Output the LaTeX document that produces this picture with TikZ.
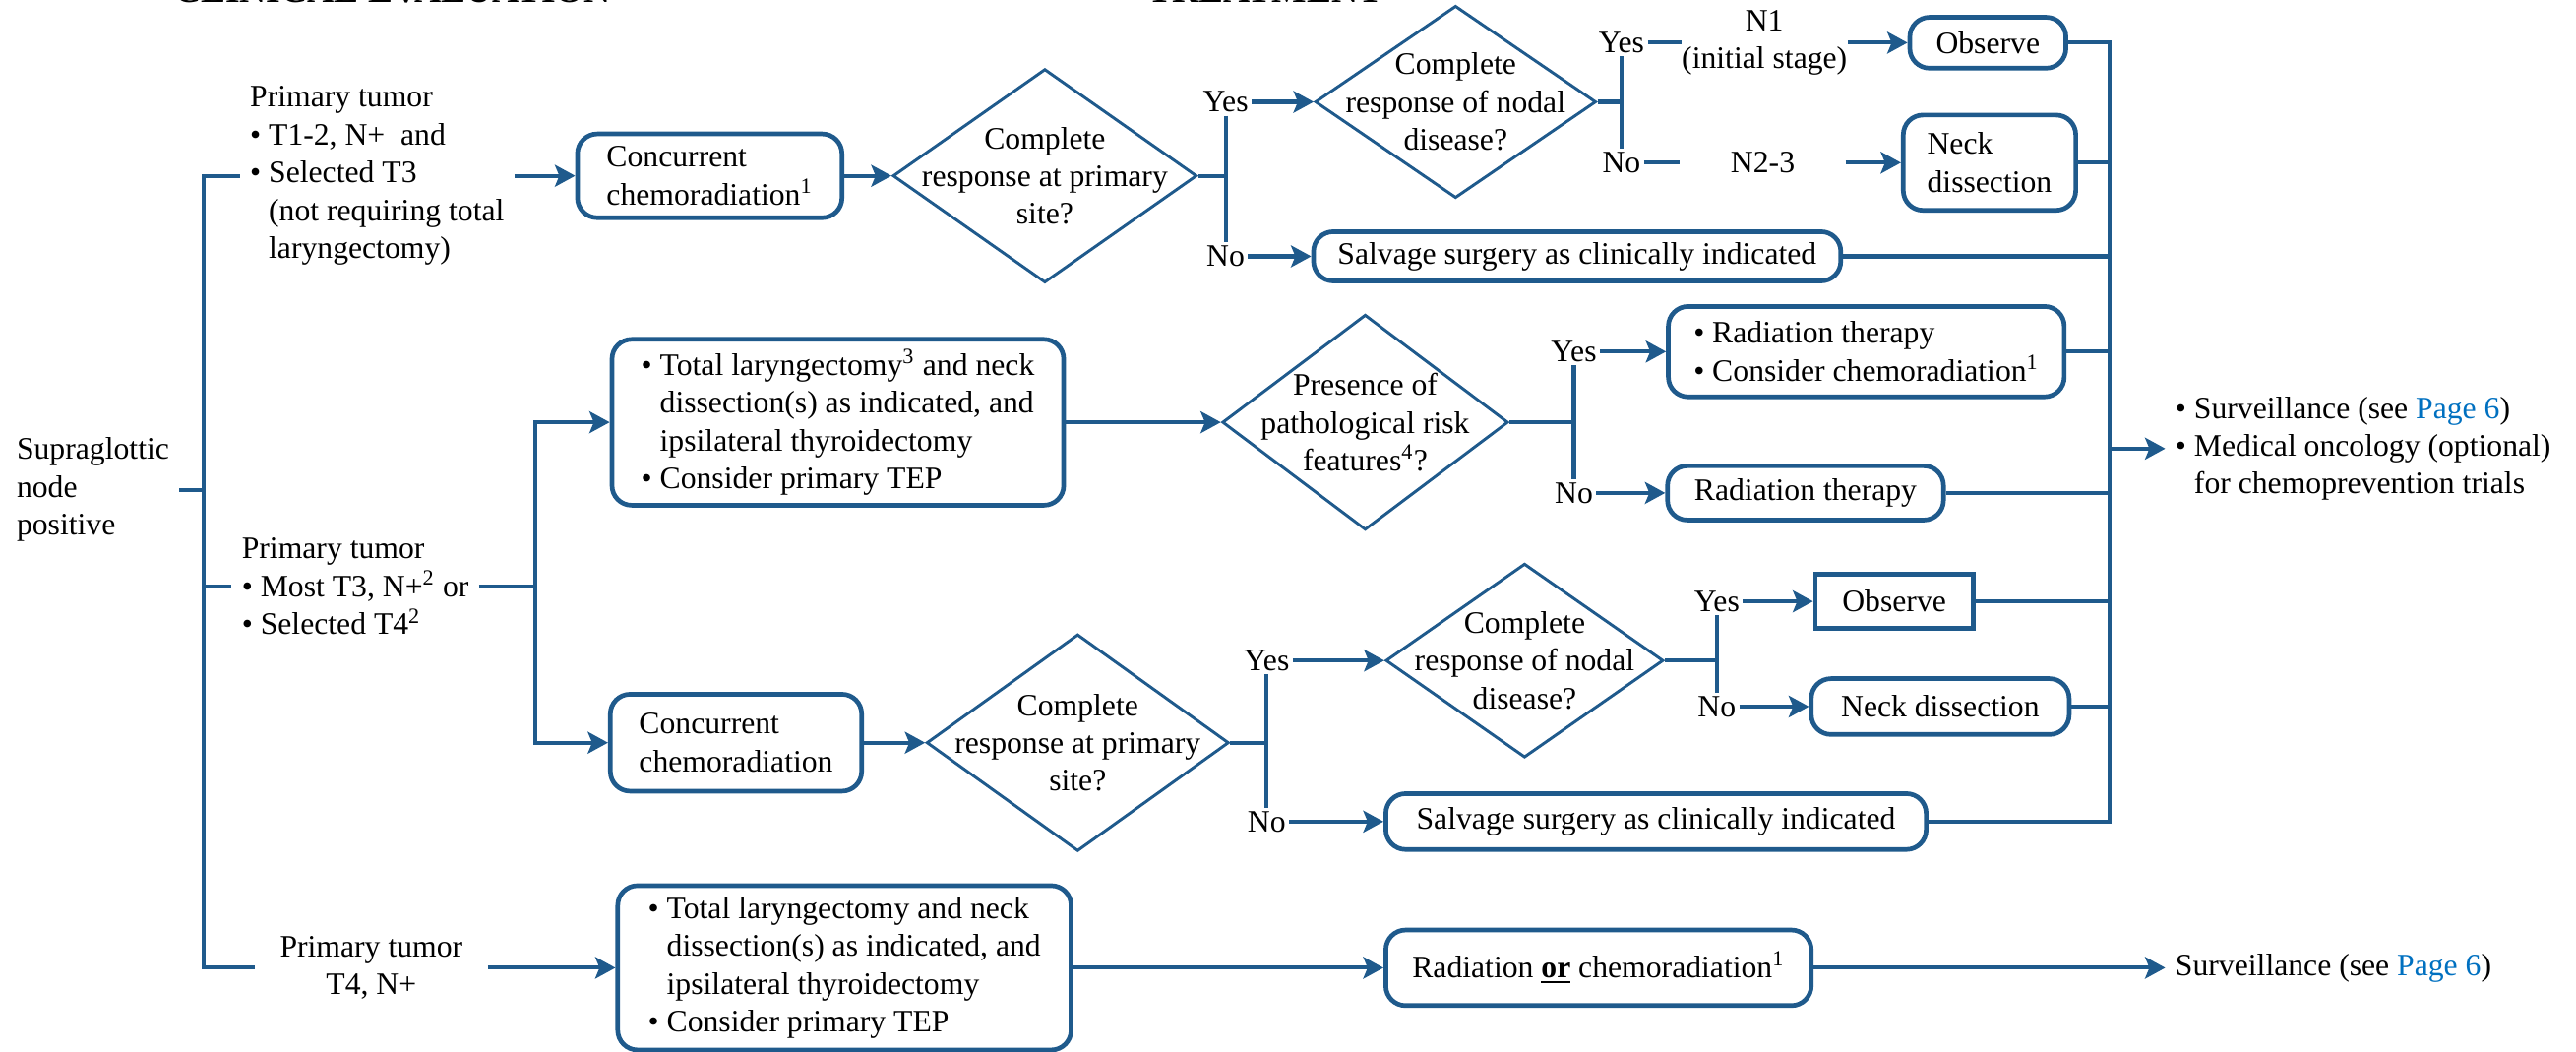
\documentclass[tikz,border=0pt]{standalone}
\usepackage{fontspec}
\setmainfont{Liberation Serif}
\usetikzlibrary{arrows.meta,shapes.geometric}

\definecolor{nccnblue}{RGB}{31,90,140}
\definecolor{linkblue}{RGB}{0,112,192}
\newcommand{\bul}{\textbullet\ }
\newcommand{\bulsp}{\phantom{\textbullet}\ }

\begin{document}
\begin{tikzpicture}[x=0.02cm, y=-0.02cm,
    font=\fontsize{10.8}{13.1}\selectfont,
    box/.style={draw=nccnblue, line width=1.6pt, rounded corners=0.24cm, align=left, inner sep=0pt},
    sqbox/.style={draw=nccnblue, line width=1.6pt, inner sep=0pt},
    dia/.style={draw=nccnblue, line width=1pt, diamond, inner sep=0pt},
    txt/.style={align=left},
    yn/.style={inner sep=1pt},
    conn/.style={draw=nccnblue, line width=1.4pt},
    arr/.style={conn, -{Stealth[length=7pt, width=7.5pt, inset=1.5pt]}},
    head/.style={font=\fontsize{12.8}{15}\selectfont\bfseries, anchor=base}]

    \useasboundingbox (0,0) rectangle (1568,640);

    % titres coupes en haut
    \node[head] (hdeval) at (239,1.5) {CLINICAL EVALUATION};
    \node[head] (hdtreat) at (770,1.5) {TREATMENT};

    % 1. colonne de gauche
    \node[txt, anchor=west] (supra) at (4,298) {Supraglottic\\node\\positive};
    \node[txt, anchor=west] (pt1) at (146,107) {Primary tumor\\\bul T1-2, N+\ \ and\\\bul Selected T3\\\bulsp(not requiring total\\\bulsp laryngectomy)};
    \node[txt, anchor=west] (pt2) at (141,357) {Primary tumor\\\bul Most T3, N+\textsuperscript{2} or\\\bul Selected T4\textsuperscript{2}};
    \node[align=center, inner xsep=0.3cm] (pt3) at (226,589) {Primary tumor\\T4, N+};
    \coordinate (tk) at (124,298);
    \coordinate (sp) at (326,357);

    % 2. rangee du haut
    \node[box, minimum width=3.22cm, minimum height=1.02cm] (cc1) at (432,107) {Concurrent\\chemoradiation\textsuperscript{1}};
    \node[dia, minimum width=3.7cm, minimum height=2.6cm] (d1) at (636,107) {};
    \node[align=center] (q1) at (d1) {Complete\\response at primary\\site?};
    \node[yn] (yes1) at (746,62) {Yes};
    \node[yn] (no1) at (746,156) {No};
    \node[dia, minimum width=3.42cm, minimum height=2.34cm] (d2) at (886,62) {};
    \node[align=center] (q2) at (d2) {Complete\\response of nodal\\disease?};
    \node[yn] (yes2) at (987,26) {Yes};
    \node[yn] (no2) at (987,99) {No};
    \node[align=center, inner xsep=0pt] (n1) at (1074,26) {N1\\(initial stage)};
    \node[minimum width=2cm] (n23) at (1073,99) {N2-3};
    \node[box, align=center, minimum width=1.9cm, minimum height=0.62cm] (obs1) at (1210,26) {Observe};
    \node[box, minimum width=2.1cm, minimum height=1.16cm] (nd1) at (1211,99) {Neck\\dissection};
    \node[box, minimum width=6.42cm, minimum height=0.6cm] (sal1) at (960,156) {Salvage surgery as clinically indicated};

    % 3. rangee du milieu
    \node[box, minimum width=5.5cm, minimum height=2.02cm] (tl1) at (510,257) {\bul Total laryngectomy\textsuperscript{3} and neck\\\bulsp dissection(s) as indicated, and\\\bulsp ipsilateral thyroidectomy\\\bul Consider primary TEP};
    \node[dia, minimum width=3.48cm, minimum height=2.62cm] (d3) at (831,257) {};
    \node[align=center] (q3) at (d3) {Presence of\\pathological risk\\features\textsuperscript{4}?};
    \node[yn] (yes3) at (958,214) {Yes};
    \node[yn] (no3) at (958,300) {No};
    \node[box, minimum width=4.82cm, minimum height=1.1cm] (rt1) at (1136,214) {\bul Radiation therapy\\\bul Consider chemoradiation\textsuperscript{1}};
    \node[box, minimum width=3.36cm, minimum height=0.66cm] (rt2) at (1099,300) {Radiation therapy};

    % 4. rangee du bas (branche chimioradiation)
    \node[box, minimum width=3.06cm, minimum height=1.18cm] (cc2) at (448,452) {Concurrent\\chemoradiation};
    \node[dia, minimum width=3.68cm, minimum height=2.64cm] (d4) at (656,452) {};
    \node[align=center] (q4) at (d4) {Complete\\response at primary\\site?};
    \node[yn] (yes4) at (771,402) {Yes};
    \node[yn] (no4) at (771,500) {No};
    \node[dia, minimum width=3.38cm, minimum height=2.36cm] (d5) at (928,402) {};
    \node[align=center] (q5) at (d5) {Complete\\response of nodal\\disease?};
    \node[yn] (yes5) at (1045,366) {Yes};
    \node[yn] (no5) at (1045,430) {No};
    \node[sqbox, minimum width=1.92cm, minimum height=0.66cm] (obs2) at (1153,366) {Observe};
    \node[box, minimum width=3.14cm, minimum height=0.68cm] (nd2) at (1181,430) {Neck dissection};
    \node[box, minimum width=6.58cm, minimum height=0.68cm] (sal2) at (1008,500) {Salvage surgery as clinically indicated};

    % 5. derniere rangee
    \node[box, minimum width=5.52cm, minimum height=2cm] (tl2) at (514,589) {\bul Total laryngectomy and neck\\\bulsp dissection(s) as indicated, and\\\bulsp ipsilateral thyroidectomy\\\bul Consider primary TEP};
    \node[box, minimum width=5.18cm, minimum height=0.92cm] (rc) at (973,589) {Radiation \textbf{\underline{or}} chemoradiation\textsuperscript{1}};
    \node[txt, anchor=west] (surv2) at (1318,589) {Surveillance (see \textcolor{linkblue}{Page 6})};

    % sortie commune
    \coordinate (col) at (1284,273);
    \node[txt, anchor=west] (surv1) at (1318,273) {\bul Surveillance (see \textcolor{linkblue}{Page 6})\\\bul Medical oncology (optional)\\\bulsp for chemoprevention trials};

    % liaisons a gauche
    \draw[conn] (supra.east) -- (tk);
    \draw[conn] (pt1.west) -| (tk) |- (pt3.west);
    \draw[conn] (pt2.west) -- (pt2.west -| tk);
    \draw[conn] (pt2.east) -- (sp);
    \draw[arr] (sp) |- (tl1.west);
    \draw[arr] (sp) |- (cc2.west);

    % liaisons du haut
    \draw[arr] (pt1.east) -- (cc1.west);
    \draw[arr] (cc1.east) -- (d1.west);
    \draw[conn] (d1.east) -- (d1.east -| yes1);
    \draw[conn] (yes1.south) -- (no1.north);
    \draw[arr] (yes1.east) -- (d2.west);
    \draw[arr] (no1.east) -- (sal1.west);
    \draw[conn] (d2.east) -- (d2.east -| yes2);
    \draw[conn] (yes2.south) -- (no2.north);
    \draw[conn] (yes2.east) -- (n1.west);
    \draw[conn] (no2.east) -- (n23.west);
    \draw[arr] (n1.east) -- (obs1.west);
    \draw[arr] (n23.east) -- (nd1.west);

    % liaisons du milieu
    \draw[arr] (tl1.east) -- (d3.west);
    \draw[conn] (d3.east) -- (d3.east -| yes3);
    \draw[conn] (yes3.south) -- (no3.north);
    \draw[arr] (yes3.east) -- (rt1.west);
    \draw[arr] (no3.east) -- (rt2.west);

    % liaisons du bas
    \draw[arr] (cc2.east) -- (d4.west);
    \draw[conn] (d4.east) -- (d4.east -| yes4);
    \draw[conn] (yes4.south) -- (no4.north);
    \draw[arr] (yes4.east) -- (d5.west);
    \draw[arr] (no4.east) -- (sal2.west);
    \draw[conn] (d5.east) -- (d5.east -| yes5);
    \draw[conn] (yes5.south) -- (no5.north);
    \draw[arr] (yes5.east) -- (obs2.west);
    \draw[arr] (no5.east) -- (nd2.west);

    \draw[arr] (pt3.east) -- (tl2.west);
    \draw[arr] (tl2.east) -- (rc.west);
    \draw[arr] (rc.east) -- (surv2.west);

    % collecteur a droite
    \draw[conn] (obs1.east) -| (col) |- (sal2.east);
    \foreach \b in {nd1,sal1,rt1,rt2,obs2,nd2}
        \draw[conn] (\b.east) -- (\b.east -| col);
    \draw[arr] (col) -- (surv1.west);

\end{tikzpicture}
\end{document}
